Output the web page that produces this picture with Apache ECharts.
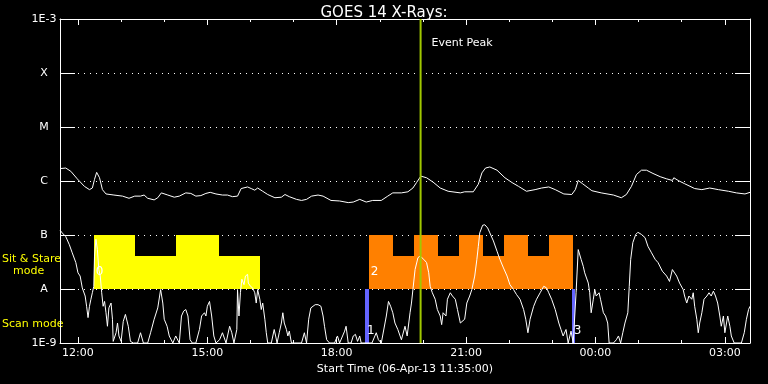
<!DOCTYPE html>
<html><head><meta charset="utf-8">
<script src="https://cdn.jsdelivr.net/npm/echarts@6/dist/echarts.min.js"></script>
<style>html,body{margin:0;padding:0;background:#000}#c{width:768px;height:384px}</style>
</head><body><div id="c"></div>
<script>
// time in minutes after 00:00 on 06-Apr-13
const xStart = 695, xEnd = 1655;
const xMajorTicks = [720, 900, 1080, 1260, 1440, 1620];
const xTickLabels = ['12:00', '15:00', '18:00', '21:00', '00:00', '03:00'];
const xMinorTicks = [720, 780, 840, 900, 960, 1020, 1080, 1140, 1200, 1260, 1320, 1380, 1440, 1500, 1560, 1620];
const yTickLabels = ['1E-9', 'A', 'B', 'C', 'M', 'X', '1E-3'];

// GOES 14 long channel (1-8 A), log10 flux
const longTimes = [695,703,710,719,729,736,740,743,746,750,754,759,770,782,791,799,807,812,817,826,831,836,845,854,861,870,877,884,891,898,904,912,921,928,935,942,947,956,961,966,970,977,984,994,1003,1008,1014,1024,1031,1038,1045,1054,1061,1072,1084,1096,1103,1112,1121,1130,1142,1151,1158,1170,1179,1186,1191,1197,1205,1214,1224,1235,1252,1258,1270,1277,1282,1287,1293,1303,1314,1324,1333,1344,1356,1365,1375,1384,1396,1407,1412,1416,1422,1430,1435,1448,1465,1476,1483,1490,1497,1504,1511,1520,1530,1539,1547,1549,1555,1564,1578,1588,1599,1611,1625,1636,1648,1655];
const longLogFlux = [-5.77,-5.76,-5.82,-5.96,-6.10,-6.16,-6.13,-5.97,-5.84,-5.94,-6.16,-6.24,-6.26,-6.28,-6.32,-6.28,-6.28,-6.26,-6.32,-6.35,-6.31,-6.22,-6.26,-6.30,-6.28,-6.22,-6.23,-6.28,-6.27,-6.23,-6.21,-6.24,-6.26,-6.26,-6.29,-6.28,-6.14,-6.11,-6.14,-6.17,-6.13,-6.19,-6.25,-6.31,-6.30,-6.25,-6.29,-6.34,-6.36,-6.34,-6.28,-6.26,-6.28,-6.36,-6.37,-6.40,-6.39,-6.34,-6.39,-6.36,-6.36,-6.28,-6.22,-6.22,-6.20,-6.13,-6.03,-5.91,-5.94,-6.02,-6.13,-6.19,-6.22,-6.20,-6.20,-6.06,-5.85,-5.76,-5.74,-5.80,-5.94,-6.03,-6.10,-6.19,-6.16,-6.13,-6.11,-6.16,-6.24,-6.25,-6.16,-5.99,-6.05,-6.13,-6.18,-6.22,-6.26,-6.31,-6.25,-6.10,-5.88,-5.80,-5.80,-5.86,-5.92,-5.96,-5.99,-5.94,-5.99,-6.05,-6.14,-6.16,-6.13,-6.16,-6.19,-6.22,-6.24,-6.21];

// GOES 14 short channel (0.5-4 A), log10 flux (clipped at 1E-9)
const shortTimes = [695,698,703,708,712,717,720,723,726,730,732,734,736,738,740,742,743,745,747,749,751,753,755,757,759,761,763,766,768,769,773,775,777,780,783,786,788,790,793,797,803,807,811,817,821,826,831,835,838,840,844,847,852,856,861,864,867,870,873,876,879,884,889,892,896,898,900,903,906,909,912,917,921,926,931,934,937,941,942,944,946,948,951,953,956,957,960,963,966,968,970,973,975,977,980,982,984,989,993,995,997,1000,1003,1005,1007,1010,1012,1014,1017,1031,1035,1038,1041,1044,1047,1050,1054,1058,1061,1063,1066,1070,1077,1081,1084,1091,1093,1096,1100,1103,1106,1109,1112,1114,1129,1135,1138,1142,1149,1152,1155,1158,1161,1165,1170,1175,1178,1182,1184,1189,1193,1196,1201,1205,1208,1210,1213,1217,1220,1224,1226,1228,1232,1234,1238,1241,1245,1248,1252,1254,1258,1261,1265,1268,1272,1275,1277,1279,1283,1286,1290,1293,1298,1303,1307,1312,1317,1321,1326,1330,1335,1340,1343,1346,1349,1354,1358,1363,1368,1372,1375,1379,1384,1389,1392,1395,1399,1402,1406,1409,1413,1416,1420,1423,1425,1430,1432,1434,1437,1439,1441,1445,1447,1451,1454,1457,1459,1465,1469,1472,1475,1478,1481,1485,1487,1489,1492,1496,1499,1504,1509,1513,1518,1523,1527,1533,1539,1543,1547,1549,1553,1557,1562,1564,1567,1570,1574,1576,1578,1581,1583,1585,1588,1591,1595,1598,1601,1604,1607,1610,1613,1615,1618,1620,1624,1627,1629,1633,1643,1647,1650,1653,1655];
const shortLogFlux = [-6.91,-6.96,-7.03,-7.18,-7.33,-7.51,-7.70,-7.76,-7.98,-8.13,-8.32,-8.53,-8.32,-8.19,-8.07,-7.95,-7.39,-7.08,-7.27,-7.64,-7.76,-8.07,-8.32,-8.23,-8.44,-8.69,-8.35,-8.26,-8.56,-8.97,-8.81,-8.63,-8.87,-8.97,-8.60,-8.47,-8.44,-8.69,-8.97,-9,-9,-8.81,-9,-9,-8.81,-8.56,-8.35,-8.01,-8.26,-8.56,-8.69,-8.87,-9,-8.87,-9,-8.50,-8.41,-8.38,-8.50,-8.94,-9,-9,-8.75,-8.50,-8.44,-8.50,-8.32,-8.23,-8.50,-8.87,-9,-8.94,-8.81,-9,-8.69,-8.81,-9,-8.75,-8.01,-8.50,-8.07,-7.82,-7.92,-7.76,-7.73,-7.89,-7.95,-7.98,-8.07,-8.26,-8.01,-8.19,-8.38,-8.26,-8.56,-8.81,-9,-9,-8.75,-8.87,-9,-8.81,-8.63,-8.44,-8.63,-8.75,-8.87,-8.78,-9,-9,-8.81,-9,-8.56,-8.35,-8.32,-8.29,-8.29,-8.32,-8.50,-8.69,-8.94,-9,-9,-8.87,-9,-8.78,-8.69,-9,-9,-8.87,-8.84,-8.97,-8.87,-9,-9,-8.81,-8.94,-9,-8.50,-8.23,-8.32,-8.44,-8.63,-8.75,-8.94,-8.69,-8.87,-8.44,-8.26,-7.64,-7.42,-7.39,-7.45,-7.51,-7.70,-7.95,-8.07,-8.19,-8.38,-8.50,-8.66,-8.44,-8.50,-8.19,-8.07,-8.13,-8.19,-8.38,-8.63,-8.66,-8.56,-8.26,-8.13,-8.01,-7.76,-7.45,-7.21,-6.96,-6.82,-6.81,-6.87,-6.96,-7.11,-7.30,-7.45,-7.61,-7.76,-7.92,-8.01,-8.10,-8.19,-8.38,-8.56,-8.81,-8.56,-8.32,-8.19,-8.07,-7.95,-7.98,-8.07,-8.19,-8.38,-8.63,-8.75,-8.87,-8.75,-9,-8.78,-9,-8.07,-7.27,-7.45,-7.58,-7.70,-7.89,-8.07,-8.44,-8.19,-8.01,-8.13,-8.07,-8.19,-8.44,-8.50,-8.63,-9,-9,-8.94,-8.87,-9,-8.81,-8.63,-8.44,-7.95,-7.45,-7.14,-6.99,-6.95,-6.99,-7.05,-7.21,-7.33,-7.45,-7.51,-7.67,-7.76,-7.86,-7.64,-7.61,-7.76,-7.89,-8.01,-8.13,-8.26,-8.13,-8.19,-8.07,-8.32,-8.56,-8.81,-8.63,-8.44,-8.19,-8.13,-8.07,-8.13,-8.04,-8.13,-8.26,-8.50,-8.69,-8.50,-8.81,-8.50,-8.69,-8.87,-9,-9,-8.81,-8.56,-8.38,-8.32];

// Observation modes
const sitStareStart = [742, 800, 857, 916];
const sitStareEnd   = [800, 857, 916, 973];
const sitStareTop   = [-7, -7.38, -7, -7.38];
const sitStare2Start = [1124.5, 1158, 1187, 1220.5, 1250, 1283, 1312.5, 1346, 1375];
const sitStare2End   = [1158, 1187, 1220.5, 1250, 1283, 1312.5, 1346, 1375, 1408.5];
const sitStare2Top   = [-7, -7.38, -7, -7.38, -7, -7.38, -7, -7.38, -7];
const scanStart = [1119.5, 1407];
const scanEnd   = [1124.5, 1412];
const blockLabels = ['0', '1', '2', '3'];
const blockLabelTimes = [742, 1119.5, 1124.5, 1407];
const blockLabelLevels = [-7.68, -8.77, -7.68, -8.77];
const eventPeak = 1196.7;

const FONT = '"DejaVu Sans", sans-serif';
const GRID = {left: 60, right: 18, top: 19, bottom: 41};

function rectSeries(starts, ends, tops, bottom, color) {
  return {
    type: 'custom', xAxisIndex: 0, yAxisIndex: 0, silent: true, z: 1, animation: false,
    data: starts.map((s, i) => [s, ends[i], tops[i], bottom]),
    encode: {x: [0, 1], y: [2, 3]},
    renderItem: (p, api) => {
      const a = api.coord([api.value(0), api.value(2)]);
      const b = api.coord([api.value(1), api.value(3)]);
      const x0 = Math.round(a[0]), x1 = Math.round(b[0]);
      const y0 = Math.round(a[1]), y1 = Math.round(b[1]);
      return {type: 'rect', shape: {x: x0, y: y0, width: x1 - x0, height: y1 - y0}, style: {fill: color}};
    }
  };
}

const chart = echarts.init(document.getElementById('c'), null, {renderer: 'canvas'});
const axisCommon = {type: 'value', min: xStart, max: xEnd, splitLine: {show: false}};
chart.setOption({
  backgroundColor: '#000',
  animation: false,
  title: {text: 'GOES 14 X-Rays:', left: 'center', top: 1,
    textStyle: {color: '#fff', fontSize: 15, fontWeight: 'normal', fontFamily: FONT}},
  grid: [Object.assign({}, GRID), Object.assign({}, GRID)],
  xAxis: [
    Object.assign({}, axisCommon, {gridIndex: 0, position: 'bottom',
      axisLine: {show: true, lineStyle: {color: '#fff', width: 1}},
      axisTick: {show: true, inside: true, length: 6, customValues: xMajorTicks, lineStyle: {color: '#fff'}},
      axisLabel: {show: true, customValues: xMajorTicks, color: '#fff', fontSize: 11, fontFamily: FONT, margin: 5,
        formatter: v => xTickLabels[xMajorTicks.indexOf(v)]},
      name: 'Start Time (06-Apr-13 11:35:00)', nameLocation: 'middle', nameGap: 19,
      nameTextStyle: {color: '#fff', fontSize: 11, fontFamily: FONT}}),
    Object.assign({}, axisCommon, {gridIndex: 0, position: 'top',
      axisLine: {show: true, lineStyle: {color: '#fff', width: 1}},
      axisTick: {show: true, inside: true, length: 6, customValues: xMajorTicks, lineStyle: {color: '#fff'}},
      axisLabel: {show: false}}),
    Object.assign({}, axisCommon, {gridIndex: 1, position: 'bottom',
      axisLine: {show: false},
      axisTick: {show: true, inside: true, length: 3, customValues: xMinorTicks, lineStyle: {color: '#fff'}},
      axisLabel: {show: false}}),
    Object.assign({}, axisCommon, {gridIndex: 1, position: 'top',
      axisLine: {show: false},
      axisTick: {show: true, inside: true, length: 3, customValues: xMinorTicks, lineStyle: {color: '#fff'}},
      axisLabel: {show: false}})
  ],
  yAxis: [
    {type: 'value', gridIndex: 0, position: 'left', min: -9, max: -3, interval: 1,
      axisLine: {show: true, lineStyle: {color: '#fff', width: 1}},
      axisTick: {show: true, inside: true, length: 15, lineStyle: {color: '#fff'}},
      axisLabel: {show: true, color: '#fff', fontSize: 11, fontFamily: FONT, align: 'center', margin: 16,
        showMinLabel: true, showMaxLabel: true,
        formatter: v => yTickLabels[Math.round(v + 9)]},
      splitLine: {show: true, lineStyle: {color: '#fff', type: [1, 5], width: 1}}},
    {type: 'value', gridIndex: 0, position: 'right', min: -9, max: -3, interval: 1,
      axisLine: {show: true, lineStyle: {color: '#fff', width: 1}},
      axisTick: {show: true, inside: true, length: 15, lineStyle: {color: '#fff'}},
      axisLabel: {show: false}, splitLine: {show: false}},
    {type: 'value', gridIndex: 1, min: -9, max: -3, show: false}
  ],
  graphic: [
    {type: 'text', x: 2, y: 259, style: {text: 'Sit & Stare', fill: '#ffff00', font: '11px ' + FONT, verticalAlign: 'middle'}},
    {type: 'text', x: 13, y: 271, style: {text: 'mode', fill: '#ffff00', font: '11px ' + FONT, verticalAlign: 'middle'}},
    {type: 'text', x: 2, y: 324, style: {text: 'Scan mode', fill: '#ffff00', font: '11px ' + FONT, verticalAlign: 'middle'}}
  ],
  series: [
    rectSeries(sitStareStart, sitStareEnd, sitStareTop, -8, '#ffff00'),
    rectSeries(sitStare2Start, sitStare2End, sitStare2Top, -8, '#ff8000'),
    rectSeries(scanStart, scanEnd, [-8, -8], -9, '#6464ff'),
    {type: 'custom', xAxisIndex: 0, yAxisIndex: 0, silent: true, z: 2,
      data: blockLabels.map((t, i) => [blockLabelTimes[i], blockLabelLevels[i], t]),
      encode: {x: 0, y: 1},
      renderItem: (p, api) => {
        const c = api.coord([api.value(0), api.value(1)]);
        return {type: 'text', x: c[0] + 2, y: c[1],
          style: {text: blockLabels[p.dataIndex], fill: '#fff', font: '12px ' + FONT, verticalAlign: 'middle'}};
      }},
    {type: 'custom', xAxisIndex: 0, yAxisIndex: 0, silent: true, z: 4,
      data: [[eventPeak, -3]], encode: {x: 0, y: 1},
      renderItem: (p, api) => {
        const top = api.coord([api.value(0), -3]);
        const bot = api.coord([api.value(0), -9]);
        return {type: 'group', children: [
          {type: 'line', shape: {x1: top[0], y1: top[1], x2: bot[0], y2: bot[1]}, style: {stroke: '#a0c800', lineWidth: 2}},
          {type: 'text', x: top[0] + 11, y: top[1] + 24, style: {text: 'Event Peak', fill: '#fff', font: '11px ' + FONT, verticalAlign: 'middle'}}
        ]};
      }},
    {type: 'line', xAxisIndex: 0, yAxisIndex: 0, z: 3, showSymbol: false, silent: true,
      data: longTimes.map((t, i) => [t, longLogFlux[i]]),
      lineStyle: {color: '#fff', width: 1}},
    {type: 'line', xAxisIndex: 0, yAxisIndex: 0, z: 3, showSymbol: false, silent: true,
      data: shortTimes.map((t, i) => [t, shortLogFlux[i]]),
      lineStyle: {color: '#fff', width: 1}}
  ]
});
</script>
</body></html>
